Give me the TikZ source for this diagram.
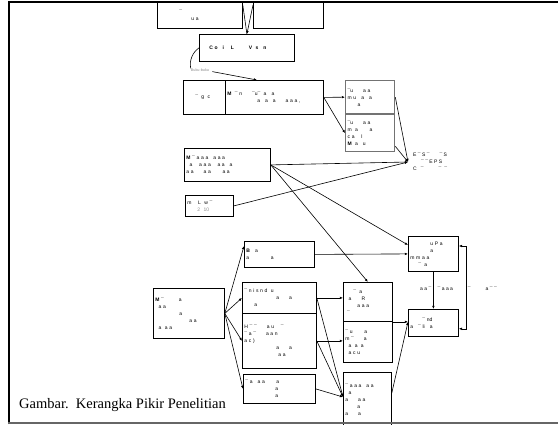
\documentclass[tikz,border=0pt]{standalone}
\usepackage{fontspec}
\setmainfont{Liberation Serif}
\setsansfont{Liberation Sans}
\usetikzlibrary{arrows.meta,calc}

% raised dash used inside the small box labels
\newcommand\mk{¯}

\tikzset{
  box/.style={draw, line width=0.8pt, inner xsep=2pt, inner ysep=1pt,
    font=\fontsize{5}{7}\selectfont\sffamily, align=left},
  greybox/.style={box, draw=black!55, line width=1.3pt},
  tag/.style={inner sep=0pt, font=\fontsize{5}{7}\selectfont\sffamily, align=left},
  arr/.style={-{Latex[length=3.2pt,width=2.6pt]}, line width=0.6pt},
  link/.style={line width=0.6pt},
  frameline/.style={line width=2pt}
}

% box with its north-west corner at (x,y), width w, height h
\newcommand\boxat[7][box]{%
  \pgfmathsetmacro\boxtw{#5-4}%
  \node[#1, anchor=north west, minimum width=#5pt, minimum height=#6pt,
        text width=\boxtw pt] (#2) at (#3,#4) {#7};}

\begin{document}
\begin{tikzpicture}[x=1pt, y=-1pt]
\useasboundingbox (0,0) rectangle (558,424);

% ---- top row ----
\boxat{b1}{157}{1}{85}{27}{\hspace*{20pt}\mk\\\hspace*{32pt}u a}
\boxat{b2}{253}{1}{70}{27}{}
\boxat{b4}{199}{34}{95}{27}{\hspace*{8pt}\textbf{C o\ \ \ i\ \ \ \ L\qquad\quad V\ \ s\ \ \ n}}

\draw[link] ([yshift=-4pt]b1.north east) -- (b4.north);
\draw[arr] ([yshift=-4pt]b2.north west) -- (b4.north);

\node[tag, text=black!45, font=\fontsize{3.8}{4.5}\selectfont\sffamily] (bk) at (200,70) {Buku-buku};
\draw[link] (b4.west) .. controls (193,52) and (189,60) .. (bk.north west);

% ---- second row ----
\boxat{b6a}{183}{80}{42}{34}{\hspace*{10pt}\mk\ \ g\ \ c}
\boxat{b6b}{225}{80}{98}{34}{\textbf{M}\ \ \mk\ n\qquad \mk u\mk\ \ a\ \ \ a\\\hspace*{30pt}a\ \ \ a\ \ \ a\qquad a a a ,}
\draw[arr] ([xshift=3pt]bk.south east) -- ([xshift=32pt]b6b.north west);
\boxat[greybox]{b7}{345}{80}{49}{33}{\mk u\qquad a\ a\\m u\ \ \ a\quad a\\\hspace*{10pt}a}
\boxat[greybox]{b8}{345}{114}{49}{37}{\mk u\qquad a\ a\\m\ \ a\qquad\ a\\c a\ \ \ \ l\\\textbf{M}\ \ a\ \ \ u}

\draw[arr] (b6b.east) -- (b7.west);
\draw[arr] (b6b.east) -- (b8.west);

\node[tag, anchor=west] (e9) at (413,162) {E \mk\ S \mk\qquad \mk\ S\\\hspace*{8pt}\mk\ \mk\ E P S\\C\ \ \ \mk\qquad\quad \mk\ \ \mk};
\coordinate (ec) at ([xshift=-5pt]e9.west);

\boxat{bM}{184}{148}{86}{33}{\textbf{M}\ \mk\ a a a\quad a a a\\\ \ a\quad\ a a a\quad\ a a\ \ \ a\\a a\qquad a a\qquad\ a a}
\boxat{bS}{185}{195}{48}{21}{m\quad\ L\ \ w \mk\\\hspace*{10pt}\textcolor{black!45}{2\ \ 10}}

\draw[arr] (b7.east) -- (ec);
\draw[arr] ([yshift=6pt]b8.south east) -- (ec);
\draw[arr] (bM.east) -- (ec);
\draw[arr] (bS.east) -- (ec);

% ---- lower part ----
\boxat{bB}{244}{241}{70}{26}{\textbf{B}\ \ \ a\\a\qquad\qquad\ a}
\boxat{b13}{408}{236}{50}{35}{\hspace*{20pt}u P a\\\hspace*{20pt}a\\m m\ a a\\\hspace*{8pt}\mk\ \ a}
\boxat{b14}{408}{309}{50}{27}{\hspace*{12pt}\mk\ nd\\a\ \ \ \mk\ li\ \ \ a}

\boxat{bL}{153}{288}{71}{50}{\textbf{M}\ \mk\qquad\quad a\\\ \ a a\\\hspace*{24pt}a\\\hspace*{34pt}a\ a\\\ \ a\ \ a a}
\boxat{b15}{242}{282}{74}{31}{\mk\ n\ i\ s\ n\ d\ \ u\\\hspace*{32pt}a\qquad a\\\hspace*{10pt}a}
\boxat{b16}{242}{313}{74}{55}{H \mk\ \mk\qquad a u\quad\ \mk\\\mk\ a \mk\qquad a a n\\a c )\\\hspace*{32pt}a\qquad a\\\hspace*{34pt}a a}
\boxat{b17}{243}{374}{72}{29}{\mk\ a\ \ \ a a\qquad\ a\\\hspace*{30pt}a\\\hspace*{30pt}a}
\boxat{b18}{343}{282}{49}{39}{\hspace*{8pt}\mk\ \ a\\\ \ a\qquad R\\\hspace*{12pt}a\ a\ a\\\ \mk}
\boxat{b19}{343}{321}{49}{41}{\mk\ u\qquad\ a\\m \mk\qquad a\\\ \ a\ \ a\ \ a\\\ \ a\ c\ u}
\boxat{b20}{343}{372}{48}{55}{\mk\ a a a\ \ \ a a\\\ \ a\\a\qquad a a\\\hspace*{12pt}a\\a\qquad a}

% middle and right connectors
\draw[arr] (bM.east) -- (b18.north);
\draw[arr] (bM.east) -- ([yshift=-9pt]b13.north west);
\draw[arr] (bB.east) -- (b13.west);
\draw[arr] (b13.south) -- (b14.north);
\draw[{Latex[length=3.2pt,width=2.6pt]}-{Latex[length=3.2pt,width=2.6pt]}, line width=0.6pt]
  ([yshift=-10pt]b13.north east) -- ++(7,0) |- ([yshift=8pt]b14.south east);
\node[tag, anchor=west] (lab) at (420,289) {a a \mk\quad\ \mk\ a a a\qquad\quad \mk\qquad\quad a \mk\ \mk};

\draw[arr] (bL.east) -- ([yshift=-5pt]bB.north west);
\draw[arr] (bL.east) -- (b15.west);
\draw[arr] (bL.east) -- (b16.west);
\draw[arr] (bL.east) -- (b17.west);

\draw[arr] (b15.east) -- (b15.east -| b18.west);
\draw[arr] (b16.east) -- (b16.east -| b19.west);
\draw[arr] (b18.south east) -- (b18.south east -| b14.west);

\coordinate (c20) at ([yshift=-25pt]b20.north west);
\draw[arr] (b15.east) -- (c20);
\draw[arr] (b16.east) -- (c20);
\draw[arr] (b17.east) -- (c20);
\draw[arr] ([yshift=-21pt]b20.north east) -- (b18.south east -| b14.west);

% ---- frame and caption ----
\draw[frameline] (9,424) -- (9,2) -- (558,2);
\draw[line width=1.3pt, black!60] (8,423) -- (558,423);
\node[anchor=west, inner sep=0pt, font=\fontsize{14.5}{16}\selectfont] (cap) at (19,405)
  {Gambar.\ \ Kerangka Pikir Penelitian};
\end{tikzpicture}
\end{document}
